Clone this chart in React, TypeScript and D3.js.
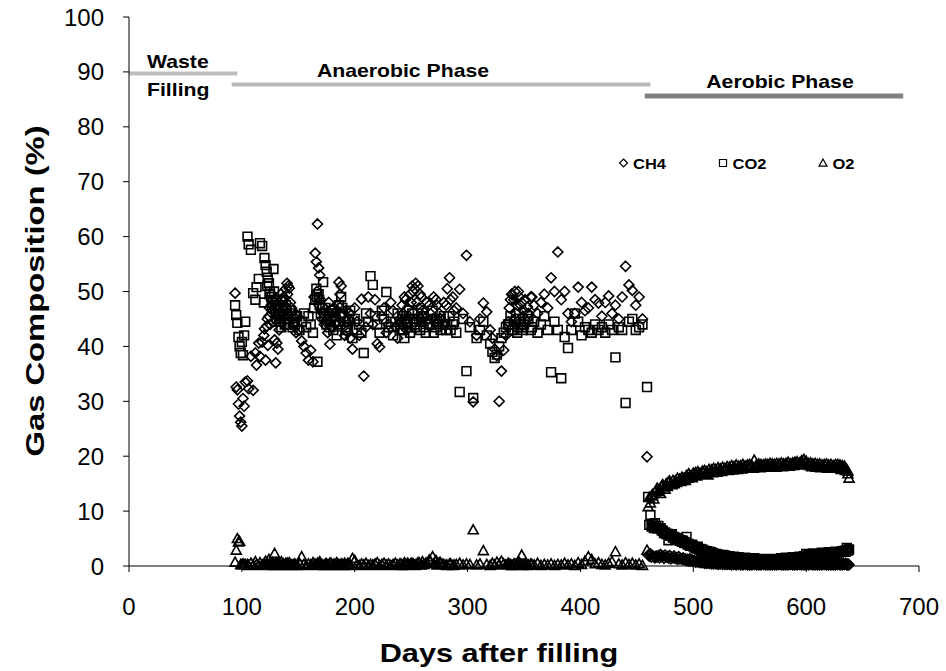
import React from 'react';
import * as d3 from 'd3';

const W = 946;
const H = 671;

const xTicks = [0, 100, 200, 300, 400, 500, 600, 700];
const yTicks = [0, 10, 20, 30, 40, 50, 60, 70, 80, 90, 100];

// Anaerobic phase sampling days
const anaerobicDays = [
  94, 95, 96, 97, 98, 99, 100, 101, 102, 103,
  105, 106, 108, 110, 112, 113, 115, 116, 118, 120,
  121, 122, 123, 124, 125, 126, 127, 128, 129, 130,
  131, 132, 133, 134, 135, 136, 137, 138, 139, 140,
  141, 142, 143, 145, 147, 149, 151, 153, 155, 157,
  159, 161, 163, 165, 166, 167, 168, 169, 170, 172,
  174, 176, 178, 180, 182, 184, 186, 188, 190, 192,
  194, 196, 198, 200, 202, 204, 206, 208, 210, 212,
  214, 216, 218, 220, 222, 224, 226, 228, 230, 232,
  234, 236, 238, 240, 242, 244, 246, 248, 250, 252,
  254, 256, 258, 260, 263, 266, 269, 272, 275, 278,
  281, 284, 287, 290, 293, 296, 299, 302, 305, 308,
  311, 314, 317, 320, 322, 324, 326, 328, 330, 332,
  334, 336, 338, 340, 342, 344, 346, 348, 350, 353,
  356, 359, 362, 365, 368, 371, 374, 377, 380, 383,
  386, 389, 392, 395, 398, 401, 404, 407, 410, 413,
  416, 419, 422, 425, 428, 431, 434, 437, 440, 443,
  446, 449, 452, 455,
];

const ch4Anaerobic = [
  49.7, 32.6, 32.1, 29.5, 27.3, 26.2, 25.5, 30.5, 29.1, 33.5,
  33.7, 32.3, 38.2, 32.0, 38.8, 36.6, 40.6, 38.2, 40.8, 43.2,
  37.5, 43.7, 40.2, 45.5, 44.0, 47.5, 46.5, 44.5, 41.2, 37.0,
  40.6, 39.5, 43.0, 46.0, 48.5, 45.0, 49.0, 47.5, 50.5, 51.5,
  51.0, 50.6, 48.0, 46.5, 44.0, 45.5, 43.0, 41.0, 40.0, 38.8,
  37.5, 39.3, 37.2, 57.0, 55.4, 62.3, 54.3, 53.0, 48.5, 46.0,
  44.5, 42.5, 40.4, 45.0, 47.0, 46.5, 51.7, 51.0, 44.0, 46.5,
  42.5, 41.5, 39.5, 47.0, 44.5, 42.0, 48.6, 34.6, 43.5, 49.0,
  46.0, 44.0, 48.5, 40.5, 39.9, 45.5, 47.0, 42.5, 44.0, 48.0,
  46.5, 43.5, 41.5, 45.0, 47.5, 49.0, 43.0, 45.5, 48.0, 50.0,
  51.5, 51.0, 49.5, 46.5, 44.5, 47.5, 45.0, 48.5, 46.0, 44.0,
  47.5, 52.5, 49.0, 47.0, 50.4, 46.0, 56.6, 44.5, 29.9, 42.0,
  45.0, 47.9, 46.3, 43.0, 41.5, 39.5, 38.3, 30.0, 35.5, 39.3,
  42.0, 44.5, 48.5, 49.4, 50.0, 47.5, 49.0, 48.0, 46.5, 47.2,
  49.0, 47.5, 46.0, 48.0, 49.5, 47.0, 52.5, 50.0, 57.2, 48.5,
  50.0, 46.0, 44.5, 46.0, 50.8, 48.0, 46.5, 47.0, 50.8, 48.5,
  47.9, 45.5, 48.0, 49.2, 46.0, 47.5, 45.0, 49.0, 54.6, 51.2,
  50.2, 47.5, 49.0, 45.0,
];

const co2Anaerobic = [
  47.5, 45.7, 44.3, 41.7, 40.0, 38.8, 40.8, 38.4, 42.0, 44.5,
  60.0, 58.6, 57.6, 49.7, 48.5, 50.8, 52.3, 58.8, 58.3, 56.1,
  54.8, 53.6, 52.5, 51.5, 50.0, 49.0, 48.0, 54.1, 47.5, 46.5,
  45.0, 47.0, 44.5, 46.0, 43.5, 48.5, 45.5, 44.0, 47.5, 46.0,
  45.0, 44.0, 46.5, 43.5, 44.0, 45.5, 43.0, 44.5, 46.0, 43.5,
  45.5, 44.0, 42.5, 48.5, 50.5, 37.2, 49.5, 47.5, 46.0, 51.7,
  47.0, 45.0, 43.5, 46.5, 44.5, 42.0, 47.5, 49.0, 45.5, 43.0,
  44.5, 46.5, 41.5, 45.0, 43.0, 44.0, 42.5, 38.8, 46.0, 44.5,
  52.8, 51.2, 45.5, 44.0, 42.5, 46.5, 45.0, 49.9, 43.5, 44.5,
  42.0, 44.5, 46.0, 43.0, 45.5, 41.5, 44.0, 46.5, 43.5, 45.0,
  44.5, 46.0, 43.0, 45.5, 42.5, 44.0, 46.5, 43.5, 45.0, 44.0,
  43.0, 45.5, 44.0, 42.5, 31.7, 45.0, 35.5, 43.5, 30.6, 41.5,
  43.0, 44.5, 42.0, 40.5, 39.0, 37.9, 38.5, 40.0, 41.5, 42.5,
  43.5, 44.0, 45.5, 43.0, 44.5, 42.5, 45.0, 43.5, 44.0, 45.5,
  43.0, 44.5, 42.5, 44.0, 45.5, 43.0, 35.3, 44.5, 43.0, 34.2,
  41.7, 39.7, 43.0, 46.0, 44.5, 42.0, 43.5, 43.0, 42.5, 44.0,
  43.0, 43.5, 42.5, 44.0, 43.0, 38.0, 43.5, 43.0, 29.7, 44.5,
  45.0, 43.0, 43.5, 44.0,
];

const o2Anaerobic = [
  0.7, 2.9, 5.0, 4.4, 4.5, 0.3, 0.2, 0.4, 0.2, 0.3,
  0.3, 0.1, 0.5, 0.2, 0.8, 0.3, 0.1, 0.6, 0.2, 0.4,
  0.9, 0.3, 0.1, 1.2, 0.4, 0.2, 0.7, 0.3, 2.3, 0.5,
  0.2, 0.6, 0.1, 0.3, 0.8, 0.2, 0.4, 0.1, 0.5, 0.3,
  0.2, 0.6, 0.3, 0.1, 0.4, 0.2, 0.5, 1.7, 0.3, 0.1,
  0.4, 0.2, 0.6, 0.3, 0.1, 0.5, 0.2, 0.8, 0.3, 0.1,
  0.4, 0.2, 0.5, 0.1, 0.3, 0.6, 0.2, 0.4, 0.1, 0.3,
  0.5, 0.2, 1.4, 1.0, 0.3, 0.1, 0.4, 0.2, 0.5, 0.1,
  0.3, 0.2, 0.4, 0.6, 0.1, 0.3, 0.5, 0.2, 0.4, 0.1,
  0.3, 0.5, 0.2, 0.4, 0.1, 0.6, 0.3, 0.2, 0.5, 0.4,
  0.2, 0.6, 0.3, 0.8, 0.5, 1.1, 1.7, 1.0, 0.6, 0.3,
  0.2, 0.4, 0.1, 0.3, 0.5, 0.2, 0.4, 0.3, 6.6, 0.2,
  0.4, 2.8, 0.3, 0.1, 0.5, 0.2, 0.7, 0.3, 0.9, 0.4,
  0.2, 0.5, 0.3, 0.1, 0.4, 0.2, 0.6, 2.0, 0.3, 0.1,
  0.4, 0.2, 0.5, 0.1, 0.3, 0.2, 0.4, 0.1, 0.3, 0.2,
  0.5, 0.2, 0.4, 0.1, 0.6, 0.3, 0.9, 1.7, 1.2, 0.4,
  0.6, 0.3, 0.2, 0.5, 0.8, 2.6, 0.4, 0.2, 0.6, 0.3,
  0.5, 0.2, 0.4, 0.1,
];

// Extra anaerobic samples (denser clusters)
const anaerobicDays2 = [
  119.5, 122.5, 124.5, 126.5, 128.5, 130.5, 132.5, 134.5, 136.5, 138.5,
  140.5, 144, 146, 148, 164, 166.5, 168.5, 171, 173, 175,
  177, 179, 181, 183, 185, 187, 189, 191, 193, 195,
  241, 243, 245, 247, 249, 251, 253, 255, 257, 259,
  261, 264, 267, 270, 273, 276, 279, 282, 285, 288,
  337, 339, 341, 343, 345, 347, 349, 351, 354, 357,
];

const ch4Anaerobic2 = [
  42.0, 45.0, 47.0, 49.5, 48.0, 45.5, 47.5, 49.5, 48.5, 46.5,
  49.5, 47.0, 45.5, 42.5, 49.0, 50.0, 47.5, 45.0, 44.0, 46.0,
  48.0, 43.5, 45.5, 44.0, 47.5, 49.5, 46.0, 42.0, 44.5, 46.0,
  44.5, 46.0, 48.5, 47.0, 49.5, 51.0, 50.5, 48.0, 47.0, 49.0,
  45.5, 48.0, 46.0, 49.0, 47.5, 45.0, 48.0, 50.5, 48.5, 46.5,
  47.0, 49.5, 48.5, 46.0, 50.0, 47.5, 45.5, 48.5, 46.0, 49.0,
];

const co2Anaerobic2 = [
  48.0, 51.0, 49.5, 47.0, 50.0, 48.5, 46.0, 44.5, 46.5, 45.0,
  44.0, 46.0, 44.5, 45.5, 47.0, 49.0, 48.5, 47.0, 45.5, 44.0,
  46.0, 44.5, 43.0, 45.5, 44.0, 46.0, 47.0, 44.5, 43.5, 45.0,
  44.0, 43.0, 45.0, 44.5, 42.5, 46.0, 44.0, 43.5, 45.0, 44.5,
  43.5, 45.0, 44.0, 42.5, 44.5, 43.0, 45.5, 44.0, 43.0, 44.5,
  44.0, 43.0, 44.5, 45.0, 43.5, 44.0, 43.0, 44.5, 45.0, 43.5,
];

const o2Anaerobic2 = [
  0.3, 0.5, 0.2, 0.4, 0.1, 0.6, 0.3, 0.2, 0.4, 0.1,
  0.5, 0.2, 0.3, 0.1, 0.4, 0.2, 0.5, 0.3, 0.1, 0.4,
  0.2, 0.5, 0.3, 0.1, 0.4, 0.2, 0.3, 0.5, 0.1, 0.2,
  0.4, 0.1, 0.3, 0.5, 0.2, 0.4, 0.1, 0.3, 0.6, 0.2,
  0.3, 0.5, 0.9, 0.4, 0.2, 0.6, 0.3, 0.1, 0.4, 0.2,
  0.3, 0.1, 0.4, 0.2, 0.5, 0.3, 0.1, 0.4, 0.2, 0.3,
];

// Aerobic phase sampling days
const aerobicDays = [
  459, 460, 461, 462, 463, 464, 465, 466, 467, 468,
  470, 472, 474, 476, 478, 480, 482, 484, 486, 488,
  490, 492, 494, 496, 498, 500, 502, 504, 506, 508,
  510, 512, 514, 516, 518, 520, 522, 524, 526, 528,
  530, 532, 534, 536, 538, 540, 542, 544, 546, 548,
  550, 552, 554, 556, 558, 560, 562, 564, 566, 568,
  570, 572, 574, 576, 578, 580, 582, 584, 586, 588,
  590, 592, 594, 596, 598, 600, 602, 604, 606, 608,
  610, 612, 614, 616, 618, 620, 622, 624, 626, 628,
  630, 632, 634, 636, 637, 638,
];

const ch4Aerobic = [
  19.9, 2.0, 1.8, 2.2, 1.6, 1.9, 1.7, 1.5, 1.8, 1.6,
  1.5, 1.7, 1.4, 1.6, 1.5, 1.3, 1.5, 1.4, 1.2, 1.3,
  1.2, 1.1, 1.0, 0.9, 0.9, 0.8, 0.7, 0.7, 0.6, 0.6,
  0.5, 0.5, 0.5, 0.4, 0.4, 0.4, 0.3, 0.4, 0.3, 0.3,
  0.3, 0.3, 0.2, 0.3, 0.2, 0.3, 0.2, 0.2, 0.3, 0.2,
  0.2, 0.2, 0.3, 0.2, 0.2, 0.2, 0.3, 0.2, 0.2, 0.2,
  0.2, 0.2, 0.2, 0.3, 0.2, 0.2, 0.2, 0.2, 0.3, 0.2,
  0.2, 0.2, 0.3, 0.2, 0.2, 0.2, 0.2, 0.3, 0.2, 0.2,
  0.2, 0.2, 0.2, 0.3, 0.2, 0.2, 0.2, 0.2, 0.2, 0.3,
  0.2, 0.2, 0.3, 0.2, 0.2, 0.2,
];

const co2Aerobic = [
  32.6, 12.6, 7.5, 9.3, 7.2, 7.6, 6.9, 7.8, 7.0, 6.8,
  6.8, 6.5, 6.0, 5.8, 4.7, 5.5, 5.2, 5.0, 4.8, 4.6,
  4.4, 4.2, 5.3, 4.0, 3.8, 3.6, 3.3, 3.5, 3.1, 3.0,
  2.8, 2.7, 2.6, 2.5, 2.3, 2.2, 2.1, 2.0, 2.0, 1.9,
  1.8, 1.8, 1.7, 1.7, 1.6, 1.6, 1.5, 1.5, 1.5, 1.4,
  1.4, 1.3, 1.4, 1.3, 1.3, 1.2, 1.3, 1.2, 1.2, 1.3,
  1.2, 1.3, 1.2, 1.3, 1.4, 1.3, 1.5, 1.4, 1.5, 1.6,
  1.5, 1.6, 1.7, 1.6, 1.8, 2.2, 2.0, 2.1, 2.3, 2.2,
  2.2, 2.3, 2.4, 2.3, 2.4, 2.5, 2.4, 2.5, 2.6, 2.5,
  2.6, 2.7, 2.8, 3.3, 2.9, 3.0,
];

const o2Aerobic = [
  2.9, 10.8, 12.5, 11.5, 12.8, 13.0, 12.2, 13.5, 13.8, 14.2,
  14.0, 14.6, 14.4, 15.0, 15.3, 15.0, 15.6, 15.5, 16.0, 15.8,
  16.2, 16.0, 16.5, 16.8, 16.4, 16.9, 17.0, 17.2, 16.8, 17.3,
  17.4, 17.2, 17.6, 17.5, 17.8, 17.6, 17.9, 17.7, 18.0, 17.8,
  18.1, 18.0, 18.3, 18.1, 18.4, 18.2, 18.3, 18.5, 18.2, 18.4,
  18.5, 18.3, 19.3, 18.4, 18.6, 18.5, 18.4, 18.6, 18.5, 18.7,
  18.6, 18.5, 18.7, 18.6, 18.8, 18.6, 18.7, 18.9, 18.6, 18.8,
  18.9, 19.0, 18.8, 19.2, 19.4, 19.1, 18.7, 18.8, 18.6, 18.7,
  18.5, 18.6, 18.4, 18.5, 18.6, 18.4, 18.5, 18.3, 18.5, 18.5,
  18.4, 18.3, 18.2, 17.6, 17.3, 16.0,
];

// Second set of aerobic samples (odd days)
const aerobicDays2 = [
  469, 471, 473, 475, 477, 479, 481, 483, 485, 487,
  489, 491, 493, 495, 497, 499, 501, 503, 505, 507,
  509, 511, 513, 515, 517, 519, 521, 523, 525, 527,
  529, 531, 533, 535, 537, 539, 541, 543, 545, 547,
  549, 551, 553, 555, 557, 559, 561, 563, 565, 567,
  569, 571, 573, 575, 577, 579, 581, 583, 585, 587,
  589, 591, 593, 595, 597, 599, 601, 603, 605, 607,
  609, 611, 613, 615, 617, 619, 621, 623, 625, 627,
  629, 631, 633, 635, 637,
];

const ch4Aerobic2 = [
  1.9, 2.1, 1.8, 2.0, 1.7, 1.9, 1.6, 1.8, 1.5, 1.7,
  1.4, 1.5, 1.3, 1.2, 1.3, 1.1, 1.0, 0.9, 1.0, 0.8,
  0.8, 0.7, 0.8, 0.6, 0.7, 0.6, 0.6, 0.5, 0.6, 0.5,
  0.5, 0.6, 0.5, 0.6, 0.5, 0.5, 0.6, 0.5, 0.5, 0.6,
  0.5, 0.6, 0.5, 0.5, 0.6, 0.5, 0.6, 0.5, 0.5, 0.6,
  0.5, 0.6, 0.5, 0.5, 0.6, 0.5, 0.6, 0.5, 0.5, 0.6,
  0.5, 0.6, 0.5, 0.6, 0.5, 0.5, 0.6, 0.5, 0.6, 0.5,
  0.5, 0.6, 0.5, 0.6, 0.5, 0.5, 0.6, 0.5, 0.5, 0.6,
  0.5, 0.6, 0.5, 0.5, 0.4,
];

const co2Aerobic2 = [
  7.3, 6.9, 6.4, 6.1, 5.9, 5.6, 5.8, 5.3, 5.1, 4.9,
  4.7, 4.6, 4.3, 3.9, 3.7, 3.9, 3.4, 3.2, 3.0, 2.8,
  2.6, 2.5, 2.4, 2.3, 2.1, 2.0, 1.9, 1.8, 1.7, 1.7,
  1.6, 1.5, 1.5, 1.4, 1.4, 1.3, 1.3, 1.2, 1.2, 1.1,
  1.1, 1.0, 1.1, 1.0, 1.0, 0.9, 1.0, 1.0, 0.9, 1.0,
  1.0, 1.0, 1.1, 1.0, 1.1, 1.1, 1.2, 1.2, 1.3, 1.3,
  1.4, 1.4, 1.5, 1.5, 1.6, 1.7, 1.8, 1.9, 1.9, 2.0,
  2.0, 2.1, 2.1, 2.2, 2.2, 2.3, 2.3, 2.4, 2.4, 2.5,
  2.5, 2.6, 2.7, 2.6, 2.8,
];

const o2Aerobic2 = [
  13.6, 13.2, 14.8, 14.0, 14.5, 15.5, 14.8, 15.0, 15.2, 15.5,
  15.4, 15.9, 15.6, 16.0, 16.3, 16.1, 16.5, 16.4, 16.9, 16.6,
  17.0, 16.8, 16.6, 17.2, 17.0, 17.3, 17.1, 17.4, 17.2, 17.5,
  17.6, 17.4, 17.7, 17.5, 17.8, 17.6, 17.9, 17.7, 18.0, 17.8,
  17.9, 18.1, 17.8, 18.0, 18.2, 17.9, 18.1, 18.3, 18.0, 18.2,
  18.1, 18.3, 18.0, 18.2, 18.4, 18.1, 18.3, 18.5, 18.2, 18.4,
  18.3, 18.6, 18.4, 18.7, 18.5, 18.8, 18.4, 18.3, 18.1, 18.2,
  18.0, 18.1, 17.9, 18.0, 18.2, 17.8, 18.0, 17.9, 18.1, 17.8,
  17.9, 17.6, 17.8, 17.4, 16.8,
];

// Phase bars
const phaseStart = [0, 91, 457];
const phaseEnd = [96, 462, 686];
const phaseLevel = [89.7, 87.7, 85.6];
const phaseColors = ['#bdbdbd', '#b8b8b8', '#808080'];
const phaseWidths = [4, 4, 5];

const legendNames = ['CH4', 'CO2', 'O2'];

const FONT = '"Liberation Sans", Arial, Helvetica, sans-serif';

const x = d3.scaleLinear().domain([0, 700]).range([129, 919]);
const y = d3.scaleLinear().domain([0, 100]).range([566, 17]);

type Shape = 'diamond' | 'square' | 'triangle';

function markerPath(shape: Shape, cx: number, cy: number, k = 1): string {
  if (shape === 'diamond') {
    const r = 5 * k;
    return `M${cx},${cy - r}L${cx + r},${cy}L${cx},${cy + r}L${cx - r},${cy}Z`;
  }
  if (shape === 'square') {
    const h = 4.4 * k;
    return `M${cx - h},${cy - h}H${cx + h}V${cy + h}H${cx - h}Z`;
  }
  const a = 5 * k;
  return `M${cx},${cy - a}L${cx + a},${cy + 0.8 * a}L${cx - a},${cy + 0.8 * a}Z`;
}

function seriesPath(shape: Shape, days: number[], vals: number[]): string {
  const n = Math.min(days.length, vals.length);
  let d = '';
  for (let i = 0; i < n; i++) d += markerPath(shape, x(days[i]), y(vals[i]));
  return d;
}

function SText(props: {
  x: number; y: number; size: number; sx?: number; anchor?: string;
  weight?: string; rotate?: number; children: React.ReactNode;
}) {
  const { sx = 1, anchor = 'start', weight = 'normal', rotate = 0 } = props;
  return (
    <text
      transform={`translate(${props.x},${props.y}) rotate(${rotate}) scale(${sx},1)`}
      fontSize={props.size}
      fontWeight={weight}
      textAnchor={anchor}
      fontFamily={FONT}
      fill="#000"
    >
      {props.children}
    </text>
  );
}

export default function App() {
  const shapes: Shape[] = ['diamond', 'square', 'triangle'];
  const legendX = [623.5, 723, 823];
  const legendY = 163;
  return (
    <svg
      width={W}
      height={H}
      viewBox={`0 0 ${W} ${H}`}
      style={{ position: 'absolute', left: 0, top: 0, background: '#fff' }}
    >
      <rect x={0} y={0} width={W} height={H} fill="#fff" />

      {/* phase bars */}
      {phaseStart.map((s, i) => (
        <line
          key={'ph' + i}
          x1={x(s)}
          x2={x(phaseEnd[i])}
          y1={y(phaseLevel[i])}
          y2={y(phaseLevel[i])}
          stroke={phaseColors[i]}
          strokeWidth={phaseWidths[i]}
        />
      ))}

      {/* phase labels */}
      <SText x={147} y={68} size={18} sx={1.18} weight="bold">Waste</SText>
      <SText x={147} y={96} size={18} sx={1.18} weight="bold">Filling</SText>
      <SText x={403} y={77} size={18} sx={1.18} weight="bold" anchor="middle">Anaerobic Phase</SText>
      <SText x={780} y={88} size={18} sx={1.18} weight="bold" anchor="middle">Aerobic Phase</SText>

      {/* axes */}
      <line x1={x(0)} x2={x(700)} y1={y(0)} y2={y(0)} stroke="#000" strokeWidth={1} />
      <line x1={x(0)} x2={x(0)} y1={y(0)} y2={y(100)} stroke="#000" strokeWidth={1} />
      {xTicks.map((t) => (
        <g key={'xt' + t}>
          <line x1={x(t)} x2={x(t)} y1={y(0)} y2={y(0) + 6} stroke="#000" />
          <SText x={x(t)} y={615} size={24} sx={1.0} anchor="middle">{t}</SText>
        </g>
      ))}
      {yTicks.map((t) => (
        <g key={'yt' + t}>
          <line x1={x(0) - 6} x2={x(0)} y1={y(t)} y2={y(t)} stroke="#000" />
          <SText x={104} y={y(t) + 8.5} size={24} sx={1.0} anchor="end">{t}</SText>
        </g>
      ))}

      {/* data */}
      <g fill="none" stroke="#000" strokeWidth={1.6}>
        <path d={seriesPath('diamond', anaerobicDays, ch4Anaerobic)} />
        <path d={seriesPath('diamond', anaerobicDays2, ch4Anaerobic2)} />
        <path d={seriesPath('square', anaerobicDays, co2Anaerobic)} />
        <path d={seriesPath('square', anaerobicDays2, co2Anaerobic2)} />
        <path d={seriesPath('triangle', anaerobicDays, o2Anaerobic)} />
        <path d={seriesPath('triangle', anaerobicDays2, o2Anaerobic2)} />
        <path d={seriesPath('diamond', aerobicDays, ch4Aerobic)} />
        <path d={seriesPath('diamond', aerobicDays2, ch4Aerobic2)} />
        <path d={seriesPath('square', aerobicDays, co2Aerobic)} />
        <path d={seriesPath('square', aerobicDays2, co2Aerobic2)} />
        <path d={seriesPath('triangle', aerobicDays, o2Aerobic)} />
        <path d={seriesPath('triangle', aerobicDays2, o2Aerobic2)} />
      </g>

      {/* legend */}
      {legendNames.map((nm, i) => (
        <g key={'lg' + i}>
          <path
            d={markerPath(shapes[i], legendX[i], legendY, 0.8)}
            fill="none"
            stroke="#000"
            strokeWidth={1.2}
          />
          <SText x={legendX[i] + 9.5} y={legendY + 5.5} size={15} sx={1.1} weight="bold">{nm}</SText>
        </g>
      ))}

      {/* axis titles */}
      <SText x={499} y={662} size={26} sx={1.18} weight="bold" anchor="middle">Days after filling</SText>
      <SText x={44} y={291} size={26} sx={1.26} weight="bold" anchor="middle" rotate={-90}>Gas Composition (%)</SText>
    </svg>
  );
}
